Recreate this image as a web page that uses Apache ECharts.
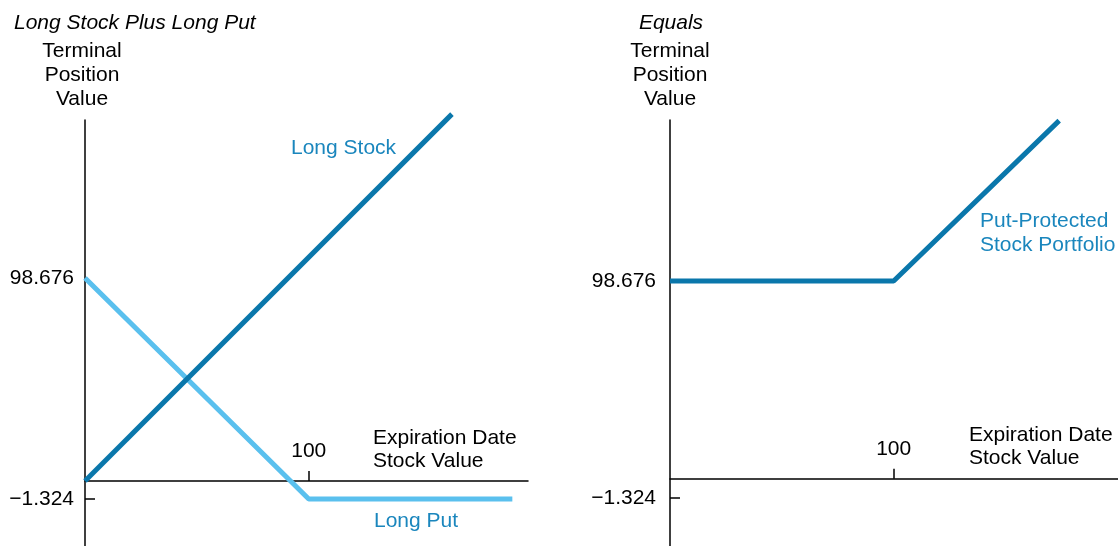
<!DOCTYPE html>
<html>
<head>
<meta charset="utf-8">
<script src="https://cdn.jsdelivr.net/npm/echarts@6/dist/echarts.min.js"></script>
<style>html,body{margin:0;padding:0;background:#fff}#c{width:1118px;height:546px}</style>
</head>
<body>
<div id="c"></div>
<script>
// ---- data ----
const stockX = [0, 164];
const stockY = [0, 164];
const putX = [0, 100, 191];
const putY = [98.676, -1.324, -1.324];
const protX = [0, 100, 174];
const protY = [98.676, 98.676, 172.676];
const yTickValues = [98.676, -1.324];
const yTickMarks = [-1.324];
const yTickLabels = {'98.676': '98.676', '-1.324': '\u22121.324'};
const xTickValues = [100];

const FONT = 'Liberation Sans, Arial, Helvetica, sans-serif';
const DARK = '#0a77ab';
const LIGHT = '#5ac0ee';
const TXTBLUE = '#1a86bd';

const pair = (xs, ys) => xs.map((x, i) => [x, ys[i]]);

function labeledY(gridIndex, min, max, margin) {
  return {
    type: 'value', gridIndex, min, max, position: 'left',
    axisLine: {show: true, onZero: false, lineStyle: {color: '#000', width: 1.5}},
    axisTick: {show: true, inside: true, length: 10, customValues: yTickMarks, lineStyle: {color: '#000', width: 1.5}},
    axisLabel: {show: true, margin, customValues: yTickValues, color: '#000', fontSize: 21, fontFamily: FONT,
      formatter: v => yTickLabels[String(Math.round(v * 1000) / 1000)] || ''},
    splitLine: {show: false}
  };
}
function hiddenY(gridIndex, min, max) {
  return {type: 'value', gridIndex, min, max, show: false,
    axisLine: {show: false}, axisTick: {show: false}, axisLabel: {show: false}, splitLine: {show: false}};
}
function hiddenX(gridIndex, max) {
  return {type: 'value', gridIndex, min: 0, max, show: false,
    axisLine: {show: false}, axisTick: {show: false}, axisLabel: {show: false}, splitLine: {show: false}};
}
// visible stock-value axis: sits at the top edge of a thin grid, ticks & label point upward
function xAx(gridIndex, max) {
  return {
    type: 'value', gridIndex, min: 0, max, position: 'top',
    axisLine: {show: true, onZero: false, lineStyle: {color: '#000', width: 1.5}},
    axisTick: {show: true, inside: false, length: 10, customValues: xTickValues, lineStyle: {color: '#000', width: 1.5}},
    axisLabel: {show: true, margin: 19, customValues: xTickValues, color: '#000', fontSize: 21, fontFamily: FONT},
    splitLine: {show: false}
  };
}
function txt(text, x, y, opts) {
  return {type: 'text', silent: true, style: Object.assign({
    text, x, y, fill: '#000', font: '21px ' + FONT, fontSize: 21, fontFamily: FONT,
    align: 'left', textAlign: 'left', verticalAlign: 'middle', textVerticalAlign: 'middle', lineHeight: 24
  }, opts || {})};
}

const chart = echarts.init(document.getElementById('c'), null, {renderer: 'canvas'});
chart.setOption({
  animation: false,
  backgroundColor: '#fff',
  grid: [
    {left: 85, top: 120, width: 443, height: 426},
    {left: 670, top: 120, width: 448, height: 426},
    {left: 85, top: 481, width: 443, height: 65},
    {left: 670, top: 478.7, width: 448, height: 67.3}
  ],
  xAxis: [hiddenX(0, 198), hiddenX(1, 200.3), xAx(2, 198), xAx(3, 200.3)],
  yAxis: [
    labeledY(0, -22.6, 170.2, 11),
    hiddenY(0, -29.06, 161.38),
    labeledY(1, -23.61, 172.97, 14),
    hiddenY(2, 0, 1),
    hiddenY(3, 0, 1)
  ],
  series: [
    {name: 'Long Stock', type: 'line', xAxisIndex: 0, yAxisIndex: 1, data: pair(stockX, stockY),
      symbol: 'none', clip: false, lineStyle: {color: DARK, width: 5, cap: 'butt'}, z: 3},
    {name: 'Long Put', type: 'line', xAxisIndex: 0, yAxisIndex: 0, data: pair(putX, putY),
      symbol: 'none', clip: false, lineStyle: {color: LIGHT, width: 5, cap: 'butt'}, z: 2},
    {name: 'Put-Protected Stock Portfolio', type: 'line', xAxisIndex: 1, yAxisIndex: 2, data: pair(protX, protY),
      symbol: 'none', clip: false, lineStyle: {color: DARK, width: 5, cap: 'butt'}, z: 3}
  ],
  graphic: [
    txt('Long Stock Plus Long Put', 14, 23, {font: 'italic 21px ' + FONT, fontStyle: 'italic'}),
    txt('Terminal\nPosition\nValue', 82, 75, {align: 'center', textAlign: 'center'}),
    txt('Equals', 671, 23, {align: 'center', textAlign: 'center', font: 'italic 21px ' + FONT, fontStyle: 'italic'}),
    txt('Terminal\nPosition\nValue', 670, 75, {align: 'center', textAlign: 'center'}),
    txt('Long Stock', 291, 148, {fill: TXTBLUE}),
    txt('Long Put', 374, 521, {fill: TXTBLUE}),
    txt('Expiration Date\nStock Value', 373, 450, {lineHeight: 23}),
    txt('Expiration Date\nStock Value', 969, 447, {lineHeight: 23}),
    txt('Put-Protected\nStock Portfolio', 980, 233, {fill: TXTBLUE})
  ]
});
</script>
</body>
</html>
